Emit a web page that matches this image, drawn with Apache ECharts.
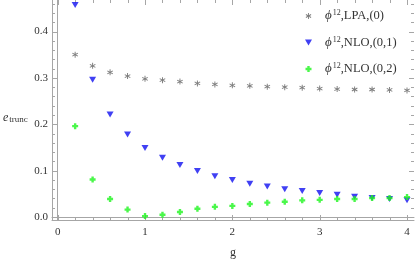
<!DOCTYPE html>
<html>
<head>
<meta charset="utf-8">
<script src="https://cdn.jsdelivr.net/npm/echarts@6/dist/echarts.min.js"></script>
<style>html,body{margin:0;padding:0;background:#fff;}#c{width:415px;height:264px;}</style>
</head>
<body>
<div id="c"></div>
<script>
const g = [0.2,0.4,0.6,0.8,1.0,1.2,1.4,1.6,1.8,2.0,2.2,2.4,2.6,2.8,3.0,3.2,3.4,3.6,3.8,4.0];
const lpa0 = [0.350,0.326,0.312,0.304,0.298,0.295,0.292,0.288,0.286,0.284,0.283,0.281,0.280,0.279,0.277,0.276,0.275,0.275,0.274,0.273];
const nlo01 = [0.457,0.296,0.221,0.178,0.149,0.128,0.112,0.099,0.088,0.080,0.072,0.066,0.060,0.056,0.052,0.048,0.044,0.041,0.039,0.036];
const nlo02 = [0.196,0.081,0.039,0.016,0.002,0.005,0.011,0.018,0.022,0.024,0.028,0.031,0.033,0.036,0.037,0.039,0.039,0.041,0.041,0.043];
const xTicks = [0,1,2,3,4];
const yTicks = [0,0.1,0.2,0.3,0.4];
const names = ['LPA,(0)','NLO,(0,1)','NLO,(0,2)'];

const XMIN=-0.065, XMAX=4.08, YMIN=-0.0064, YMAX=0.468;
function minorList(lo, hi, step, majors){
  const out=[]; for(let i=Math.ceil(lo/step); i*step<=hi+1e-9; i++){const v=+(i*step).toFixed(4); if(!majors.some(m=>Math.abs(m-v)<1e-6)) out.push(v);} return out;
}
const xMinor = minorList(0,4.0,0.2,xTicks);
const yMinor = minorList(0,0.46,0.02,yTicks);
const axCol = '#a6a6a6';
const labStyle = {color:'#333', fontFamily:'Liberation Serif', fontSize:11};

const xAxis = {type:'value', min:XMIN, max:XMAX, splitLine:{show:false},
  axisLine:{show:true, onZero:false, lineStyle:{color:axCol, width:1}},
  axisTick:{show:false},
  axisLabel:Object.assign({show:true, customValues:xTicks, margin:7, formatter:v=>String(Math.round(v))}, labStyle),
  name:'g', nameLocation:'middle', nameGap:27,
  nameTextStyle:{color:'#333', fontFamily:'Liberation Serif', fontSize:12}};
const xAxisTop = {type:'value', position:'top', min:XMIN, max:XMAX, splitLine:{show:false},
  axisLine:{show:true, lineStyle:{color:axCol}}, axisTick:{show:false}, axisLabel:{show:false}};
const yAxis = {type:'value', min:YMIN, max:YMAX, splitLine:{show:false},
  axisLine:{show:true, onZero:false, lineStyle:{color:axCol, width:1}},
  axisTick:{show:false},
  axisLabel:Object.assign({show:true, customValues:yTicks, margin:4, formatter:v=>v.toFixed(1)}, labStyle)};
const yAxisRight = {type:'value', position:'right', min:YMIN, max:YMAX, splitLine:{show:false},
  axisLine:{show:true, lineStyle:{color:axCol}}, axisTick:{show:false}, axisLabel:{show:false}};

const star = 'path://M-1.5,-10L1.5,-10L1.5,10L-1.5,10Z M7.91,-6.3L9.41,-3.7L-7.91,6.3L-9.41,3.7Z M-9.41,-3.7L-7.91,-6.3L9.41,3.7L7.91,6.3Z';
const plus = 'path://M-4,-10L4,-10L4,-4L10,-4L10,4L4,4L4,10L-4,10L-4,4L-10,4L-10,-4L-4,-4Z';
const tri = 'path://M-10,-8L10,-8L0,9Z';

function pts(ys){ return g.map((x,i)=>[x, ys[i]]); }

function tickSeries(vals, isX, len){
  return {type:'custom', silent:true, z:1, clip:false, legendHoverLink:false,
    data: vals.map(v => isX ? [v, YMIN] : [XMIN, v]),
    renderItem:(params, api) => {
      const cs = params.coordSys;
      const st = {stroke:axCol, lineWidth:1};
      if (isX) {
        const x = Math.round(api.coord([api.value(0), YMIN])[0]) + 0.5;
        const yb = cs.y + cs.height, yt = cs.y;
        return {type:'group', children:[
          {type:'line', shape:{x1:x, y1:yb, x2:x, y2:yb-len}, style:st},
          {type:'line', shape:{x1:x, y1:yt, x2:x, y2:yt+len}, style:st}]};
      } else {
        const y = Math.round(api.coord([XMIN, api.value(1)])[1]) + 0.5;
        const xl = cs.x, xr = cs.x + cs.width;
        return {type:'group', children:[
          {type:'line', shape:{x1:xl, y1:y, x2:xl+len, y2:y}, style:st},
          {type:'line', shape:{x1:xr, y1:y, x2:xr-len, y2:y}, style:st}]};
      }
    }};
}

const series = [
  tickSeries(xTicks, true, 5), tickSeries(xMinor, true, 3),
  tickSeries(yTicks, false, 5), tickSeries(yMinor, false, 3),
  {name:names[0], type:'scatter', z:3, data:pts(lpa0), symbol:star, symbolSize:6, itemStyle:{color:'#5e5e5e'}},
  {name:names[1], type:'scatter', z:3, data:pts(nlo01), symbol:tri, symbolSize:[7,6], itemStyle:{color:'#1010f0'}},
  {name:names[2], type:'scatter', z:3, data:pts(nlo02), symbol:plus, symbolSize:6, itemStyle:{color:'#1ef51e'}}
];

const chart = echarts.init(document.getElementById('c'), null, {renderer:'canvas'});
chart.setOption({
  animation:false,
  grid:{left:52, right:1, top:0, bottom:40.5, containLabel:false},
  xAxis:[xAxis, xAxisTop], yAxis:[yAxis, yAxisRight],
  legend:{orient:'vertical', left:300, top:4, itemGap:12.5, itemWidth:7, itemHeight:6,
    data:names.map(n=>({name:n})),
    formatter: n => '{p|ϕ}{s|12}{t|,' + n + '}',
    textStyle:{color:'#333', fontFamily:'Liberation Serif', fontSize:12, padding:[0,0,0,8], rich:{
      p:{fontFamily:'Liberation Serif', fontStyle:'italic', fontSize:13, color:'#333', lineHeight:14},
      s:{fontFamily:'Liberation Serif', fontSize:8, color:'#333', verticalAlign:'top', lineHeight:14, padding:[0,0,6,1]},
      t:{fontFamily:'Liberation Serif', fontSize:12.5, color:'#333', lineHeight:14}
    }}},
  graphic:[{type:'text', left:3, top:112, style:{
    text:'{e|e}{s|trunc}', rich:{
      e:{fontFamily:'Liberation Serif', fontStyle:'italic', fontSize:12, fill:'#333'},
      s:{fontFamily:'Liberation Serif', fontSize:9, fill:'#333', padding:[4,0,0,1]}
    }}}],
  series:series
});
</script>
</body>
</html>
